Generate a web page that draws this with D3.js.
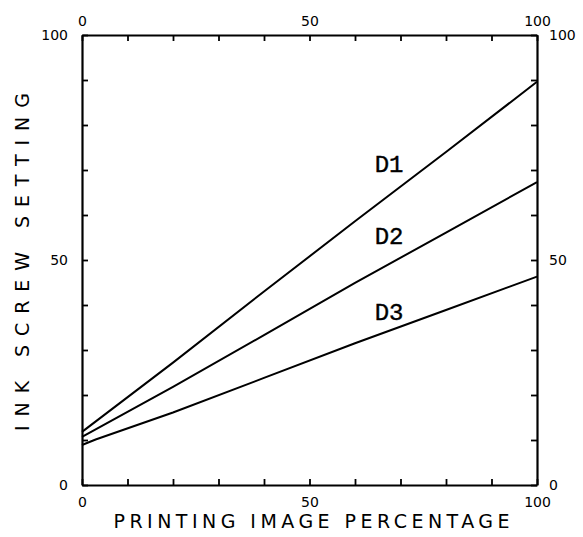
<!DOCTYPE html>
<html><head><meta charset="utf-8">
<script src="https://cdn.jsdelivr.net/npm/d3@7"></script>
<style>body{margin:0;background:#fff}svg{display:block}</style>
</head><body>
<script>
const xTickValues = [0,10,20,30,40,50,60,70,80,90,100];
const yTickValues = [0,10,20,30,40,50,60,70,80,90,100];
const labeledTicks = [0,50,100];
const seriesNames = ["D1","D2","D3"];
const d1X = [0,20,40,60,80,100];
const d1Y = [11.8,27.2,43.0,58.6,74.0,89.6];
const d2X = [0,20,40,60,80,100];
const d2Y = [10.7,21.8,33.3,44.9,56.1,67.3];
const d3X = [0,3,20,40,60,80,100];
const d3Y = [8.9,10.1,16.1,23.8,31.5,38.9,46.3];
const labelX = [67.5,67.5,67.5];
const labelY = [71,54.9,38.2];
const xTitle = "PRINTING IMAGE PERCENTAGE";
const yTitle = "INK SCREW SETTING";

const W=583,H=537;
const m={l:82,r:46,t:35,b:52};
const svg=d3.select("body").append("svg").attr("width",W).attr("height",H);
const x=d3.scaleLinear().domain([0,100]).range([m.l,W-m.r]);
const y=d3.scaleLinear().domain([0,100]).range([H-m.b,m.t]);
const fmt=d=>labeledTicks.includes(d)?String(d):"";
const font="DejaVu Sans";

function styleAxis(g){
  g.select(".domain").attr("stroke","#000").attr("stroke-width",2.2);
  g.selectAll(".tick line").attr("stroke","#000").attr("stroke-width",1.8);
  g.selectAll(".tick text").attr("font-family",font).attr("font-size",14).attr("fill","#000");
}
svg.append("g").attr("transform",`translate(0,${y(0)})`)
  .call(d3.axisBottom(x).tickValues(xTickValues).tickFormat(fmt).tickSizeInner(-6).tickSizeOuter(0).tickPadding(12))
  .call(styleAxis);
svg.append("g").attr("transform",`translate(0,${y(100)})`)
  .call(d3.axisTop(x).tickValues(xTickValues).tickFormat(fmt).tickSizeInner(-6).tickSizeOuter(0).tickPadding(9))
  .call(styleAxis);
svg.append("g").attr("transform",`translate(${x(0)},0)`)
  .call(d3.axisLeft(y).tickValues(yTickValues).tickFormat(fmt).tickSizeInner(-6).tickSizeOuter(0).tickPadding(14))
  .call(styleAxis);
svg.append("g").attr("transform",`translate(${x(100)},0)`)
  .call(d3.axisRight(y).tickValues(yTickValues).tickFormat(fmt).tickSizeInner(-6).tickSizeOuter(0).tickPadding(12))
  .call(styleAxis);

const series=[d1X.map((v,i)=>[v,d1Y[i]]),d2X.map((v,i)=>[v,d2Y[i]]),d3X.map((v,i)=>[v,d3Y[i]])];
const line=d3.line().x(d=>x(d[0])).y(d=>y(d[1]));
svg.selectAll("path.s").data(series).join("path").attr("class","s")
  .attr("d",line).attr("fill","none").attr("stroke","#000").attr("stroke-width",2);

svg.selectAll("text.lab").data(seriesNames).join("text").attr("class","lab")
  .attr("x",(d,i)=>x(labelX[i])).attr("y",(d,i)=>y(labelY[i]))
  .attr("text-anchor","middle").attr("dominant-baseline","central")
  .attr("font-family","Liberation Mono").attr("font-size",24).attr("fill","#000")
  .attr("stroke","#000").attr("stroke-width",0.4).text(d=>d);

svg.append("text").attr("x",(x(0)+x(100))/2+2).attr("y",528)
  .attr("text-anchor","middle").attr("font-family",font).attr("font-size",19)
  .attr("textLength",396).attr("lengthAdjust","spacing").text(xTitle);
svg.append("text").attr("transform",`translate(29,${(y(0)+y(100))/2+2}) rotate(-90)`)
  .attr("text-anchor","middle").attr("font-family",font).attr("font-size",19)
  .attr("textLength",338).attr("lengthAdjust","spacing").text(yTitle);
</script>
</body></html>
